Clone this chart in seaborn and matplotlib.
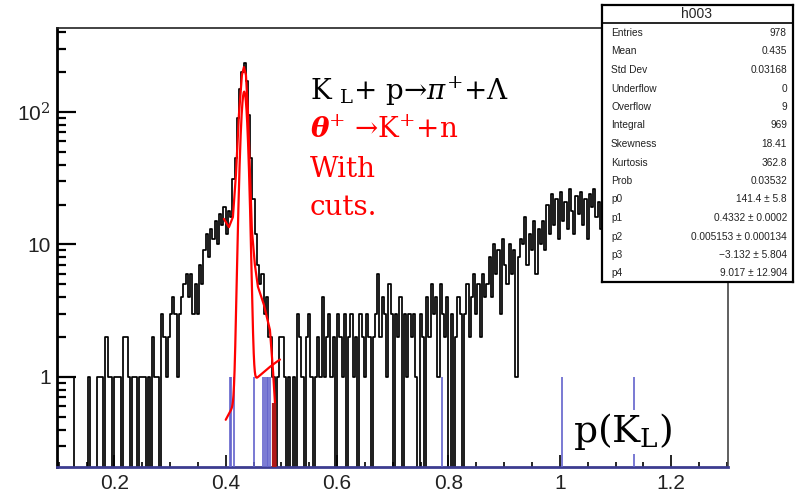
import numpy as np
import pandas as pd
import matplotlib
matplotlib.use("Agg")
import matplotlib.pyplot as plt
import seaborn as sns
from matplotlib.ticker import FixedLocator, FixedFormatter, MultipleLocator, NullFormatter

sns.set_theme(style="ticks")
plt.rcParams['font.family'] = ['Liberation Sans', 'DejaVu Sans']
plt.rcParams['mathtext.fontset'] = 'custom'
plt.rcParams['mathtext.rm'] = 'DejaVu Serif'
plt.rcParams['mathtext.it'] = 'DejaVu Serif:italic'
plt.rcParams['mathtext.bf'] = 'DejaVu Serif:bold'
plt.rcParams['mathtext.bfit'] = 'DejaVu Serif:italic:bold'

# ---------------- data ----------------
bin_start = 0.1
bin_width = 0.004

# bins 0-69  (x 0.100 - 0.380)
counts_low = [1, 1, 1, 1, 1, 1, 1, 0, 0, 0, 0, 0, 0, 1, 0, 0, 0, 1, 1, 1,
              0, 2, 1, 1, 0, 1, 1, 1, 0, 2, 2, 1, 0, 1, 1, 0, 1, 1, 1, 0,
              1, 0, 2, 1, 1, 0, 3, 2, 1, 2, 3, 4, 3, 1, 3, 4, 5, 6, 4, 6,
              3, 5, 3, 7, 5, 9, 12, 8, 13, 11]
# bins 70-100 (x 0.380 - 0.504)  peak
counts_peak = [15, 10, 17, 14, 19, 12, 18, 16, 31, 45, 90, 150, 200, 234, 170,
               95, 45, 22, 12, 7, 5, 6, 3, 4, 2, 2, 1, 0, 1, 2, 2]
# bins 101-192 (x 0.504 - 0.772)
counts_mid = [1, 0, 1, 0, 1, 0, 3, 2, 1, 0, 2, 3, 1, 0, 1, 2, 1, 4, 1, 2, 3, 1, 2, 0, 3, 2,
              1, 3, 0, 2, 3, 1, 2, 0, 3, 2, 1, 3, 2, 0, 2, 3, 6, 2, 4, 3, 1, 5, 3,
              0, 3, 2, 4, 0, 3, 1, 3, 2, 3, 1, 0, 3, 2, 0, 4, 2, 5, 3, 4, 1, 5,
              3, 2, 4, 0, 3, 0, 2, 4, 3, 0,
              3, 5, 2, 4, 6, 3, 5, 2, 6, 4, 5]
# bins 193-299 (x 0.872 - 1.300)
counts_high = [8, 4, 10, 6, 9, 3, 11, 7, 5, 10, 6, 9, 1,
               8, 11, 10, 16, 7, 12, 9, 15, 6, 13, 10,
               15, 9, 20, 12, 24, 14, 22, 11,
               25, 15, 21, 13, 26, 18, 12, 23, 17, 25, 14, 22, 11, 24, 19, 26, 16, 21, 13,
               24, 30, 19, 27, 22, 33, 17, 26, 29, 21, 34, 25, 18, 28, 31, 23, 27, 20, 35, 26,
               22, 30, 24, 29, 19, 32, 27, 23, 36, 25, 28, 21, 33, 26, 30, 22, 29, 34, 24, 27,
               31, 20, 28, 35, 25, 30, 23, 32, 26, 29, 33, 27, 24, 31, 28, 30]

# blue single-entry bins
blue_x = [0.4068, 0.4097, 0.4152, 0.4506, 0.4673, 0.4704, 0.4734, 0.4763, 0.4794,
          0.7885, 1.0041, 1.1335]
blue_h = [1] * len(blue_x)

# red smooth curve through the peak
smooth_x = [0.3967, 0.4057, 0.4129, 0.4183, 0.4237, 0.4291, 0.4327, 0.4363, 0.4398,
            0.4434, 0.4470, 0.4524, 0.4578, 0.4686, 0.4794, 0.4848, 0.4884, 0.4895]
smooth_y = [15.6, 13.5, 16.1, 33.3, 95, 190, 218, 190, 103,
            36.6, 12.8, 7.0, 4.8, 3.5, 2.26, 1.13, 0.64, 0.1]
darkred_x = [0.4875]
darkred_top = [0.64]

# fit function (gaus + pol1) with the parameters of the stats box
fit_params = [141.4, 0.4332, 0.005153, -3.132, 9.017]
fit_range = [0.400, 0.4974]

x_ticks = [0.2, 0.4, 0.6, 0.8, 1.0, 1.2]
x_tick_labels = ["0.2", "0.4", "0.6", "0.8", "1", "1.2"]
y_ticks = [1, 10, 100]
y_tick_labels = ["1", "10", "10$^{2}$"]

stat_names = ["Entries", "Mean", "Std Dev", "Underflow", "Overflow", "Integral",
              "Skewness", "Kurtosis", "Prob", "p0", "p1", "p2", "p3", "p4"]
stat_values = ["978", "0.435", "0.03168", "0", "9", "969", "18.41", "362.8",
               "0.03532", "141.4 \u00b1 5.8", "0.4332 \u00b1 0.0002",
               "0.005153 \u00b1 0.000134", "\u22123.132 \u00b1 5.804", "9.017 \u00b1 12.904"]

# ---------------- figure ----------------
W, H = 800, 496
fig = plt.figure(figsize=(W / 100, H / 100), dpi=100)
fig.patch.set_facecolor("white")
ax = fig.add_axes([57 / W, 29 / H, 671 / W, 439 / H])
ax.set_facecolor("white")

counts = np.array(counts_low + counts_peak + counts_mid + counts_high, dtype=float)
n_bins = len(counts)
bin_stop = bin_start + bin_width * n_bins
centers = bin_start + bin_width * (np.arange(n_bins) + 0.5)
df = pd.DataFrame({"x": centers, "n": counts})

ax.set_yscale("log")
sns.histplot(data=df, x="x", weights="n", bins=n_bins, binrange=(bin_start, bin_stop),
             element="step", fill=False, color="black", linewidth=1.25, ax=ax)

ax.vlines(blue_x, ymin=0.01, ymax=blue_h, colors="#6262cc", lw=1.2, zorder=3)

p0, p1, p2, p3, p4 = fit_params
xf = np.linspace(fit_range[0], fit_range[1], 400)
yf = p0 * np.exp(-0.5 * ((xf - p1) / p2) ** 2) + p3 + p4 * xf
sns.lineplot(x=xf, y=yf, sort=False, estimator=None, color="red", lw=1.6, ax=ax, zorder=4)
sns.lineplot(x=smooth_x, y=smooth_y, sort=False, estimator=None, color="red", lw=1.6,
             ax=ax, zorder=4)
ax.vlines(darkred_x, ymin=0.01, ymax=darkred_top, colors="#b01818", lw=3, zorder=4)

ax.set_xlim(0.097, 1.302)
ax.set_ylim(0.209, 430)
ax.set_xlabel("")
ax.set_ylabel("")

ax.xaxis.set_major_locator(FixedLocator(x_ticks))
ax.xaxis.set_major_formatter(FixedFormatter(x_tick_labels))
ax.xaxis.set_minor_locator(MultipleLocator(0.05))
ax.yaxis.set_major_locator(FixedLocator(y_ticks))
ax.yaxis.set_major_formatter(FixedFormatter(y_tick_labels))
ax.yaxis.set_minor_locator(FixedLocator([0.3, 0.4, 0.5, 0.6, 0.7, 0.8, 0.9,
                                         2, 3, 4, 5, 6, 7, 8, 9,
                                         20, 30, 40, 50, 60, 70, 80, 90, 200, 300, 400]))
ax.yaxis.set_minor_formatter(NullFormatter())

ax.tick_params(axis="x", which="major", direction="in", length=8.5, width=1.2,
               color="black", labelsize=15, pad=5, top=False)
ax.tick_params(axis="x", which="minor", direction="in", length=3.5, width=1.2,
               color="black", top=False)
ax.tick_params(axis="y", which="major", direction="in", length=13.5, width=1.6,
               color="black", labelsize=15, pad=4.5, right=False)
ax.tick_params(axis="y", which="minor", direction="in", length=6.5, width=1.6,
               color="black", right=False)
for lab in ax.get_xticklabels() + ax.get_yticklabels():
    lab.set_color("#222222")

ax.spines["left"].set_linewidth(2.0)
ax.spines["left"].set_color("black")
ax.spines["bottom"].set_linewidth(2.0)
ax.spines["bottom"].set_color("#3c3c90")
ax.spines["top"].set_linewidth(1.2)
ax.spines["top"].set_color("#222222")
ax.spines["right"].set_linewidth(1.2)
ax.spines["right"].set_color("#444444")
for s in ax.spines.values():
    s.set_visible(True)


def ftext(px, py, s, **kw):
    return fig.text(px / W, 1 - py / H, s, **kw)


serif = ["DejaVu Serif"]
ftext(310, 100, r"K $_{\mathrm{L}}$+ p→$\mathit{\pi}^{+}$+$\mathit{\Lambda}$",
      fontsize=20, family=serif, color="black", va="baseline")
ftext(310, 138, r"$\mathbfit{\theta}^{+}$ →K$^{+}$+n",
      fontsize=20, family=serif, color="red", va="baseline")
ftext(310, 177, "With", fontsize=20, family=serif, color="red", va="baseline")
ftext(310, 215, "cuts.", fontsize=20, family=serif, color="red", va="baseline")

ftext(573, 442, r"p(K$_{\mathrm{L}}$)", fontsize=27, family=serif, color="black",
      va="baseline", bbox=dict(facecolor="white", edgecolor="none", pad=1.0))

# stats box
sax = fig.add_axes([602 / W, 1 - 282 / H, 191 / W, 277 / H])
sax.set_facecolor("white")
sax.set_xlim(602, 793)
sax.set_ylim(282, 5)
sax.set_xticks([])
sax.set_yticks([])
for s in sax.spines.values():
    s.set_linewidth(1.6)
    s.set_color("black")
    s.set_visible(True)
sax.axhline(23, color="black", lw=1.2)
sax.text(697, 14.5, "h003", ha="center", va="center", fontsize=10)
row0, drow = 33, 18.5
for k, (nm, val) in enumerate(zip(stat_names, stat_values)):
    yy = row0 + drow * k
    sax.text(611, yy, nm, ha="left", va="center", fontsize=7.3, color="#222222")
    sax.text(787, yy, val, ha="right", va="center", fontsize=7.3, color="#222222")

fig.savefig("out.png", dpi=100, facecolor="white")
